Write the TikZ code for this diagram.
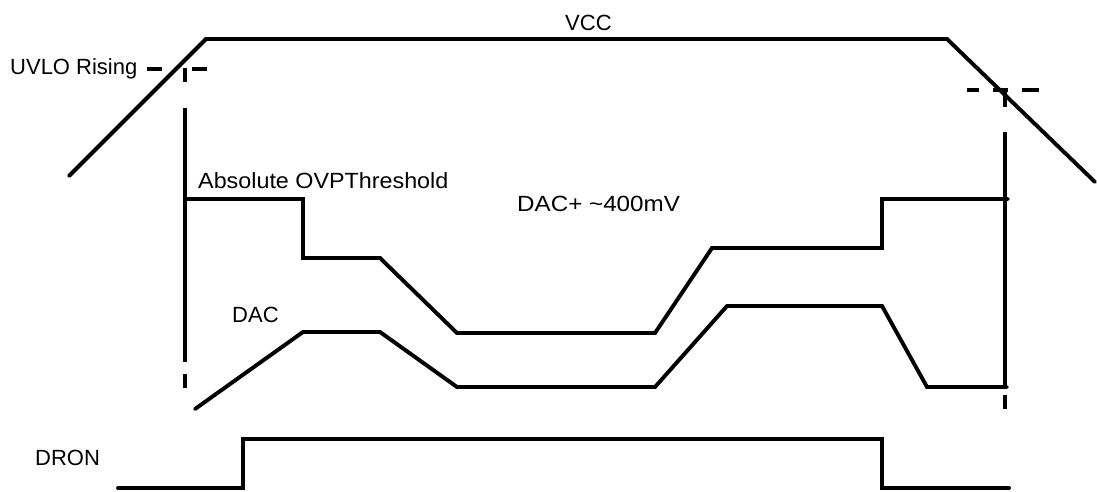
\documentclass[tikz,border=0pt]{standalone}
\usepackage{fontspec}
\setmainfont{Liberation Sans}
\begin{document}
\begin{tikzpicture}[x=1pt,y=-1pt,
  wave/.style={line width=3.9pt,line cap=round,line join=miter},
  tickline/.style={line width=3.9pt,line cap=butt},
  lbl/.style={anchor=base west,inner sep=0pt,font=\fontsize{22}{24}\selectfont}]
\useasboundingbox (0,0) rectangle (1097,492);
% VCC
\draw[wave] (69,176) -- (206,39) -- (947,39) -- (1095,182);
% UVLO rising markers
\draw[tickline] (147,69) -- (162,69) (192,69) -- (207,69);
\draw[tickline] (185,68) -- (185,82) (185,108) -- (185,362) (185,374) -- (185,388);
% UVLO falling markers
\draw[tickline] (967,90) -- (979,90) (993,90) -- (1008,90) (1022,90) -- (1039,90);
\draw[tickline] (1005,90) -- (1005,107) (1005,132) -- (1005,387) (1005,395) -- (1005,409);
% OVP threshold
\draw[wave] (185,199) -- (303,199) -- (303,258) -- (380,258) -- (457,333) -- (655,333) -- (712,248) -- (882,248) -- (882,199) -- (1008,199);
% DAC
\draw[wave] (195,409) -- (303,332) -- (380,332) -- (457,387) -- (655,387) -- (727,306) -- (882,306) -- (927,387) -- (1007,387);
% DRON
\draw[wave] (118,488) -- (243,488) -- (243,439) -- (882,439) -- (882,488) -- (1009,488);
% labels
\node[lbl] (vcc) at (565,31) {VCC};
\node[lbl] (uvlo) at (10,75) {UVLO Rising};
\node[lbl,xscale=1.06] (ovp) at (198,188) {Absolute OVPThreshold};
\node[lbl,xscale=1.1] (dacp) at (517,211) {DAC+ \textasciitilde400mV};
\node[lbl] (dac) at (232,322) {DAC};
\node[lbl] (dron) at (35,465) {DRON};
\end{tikzpicture}
\end{document}
